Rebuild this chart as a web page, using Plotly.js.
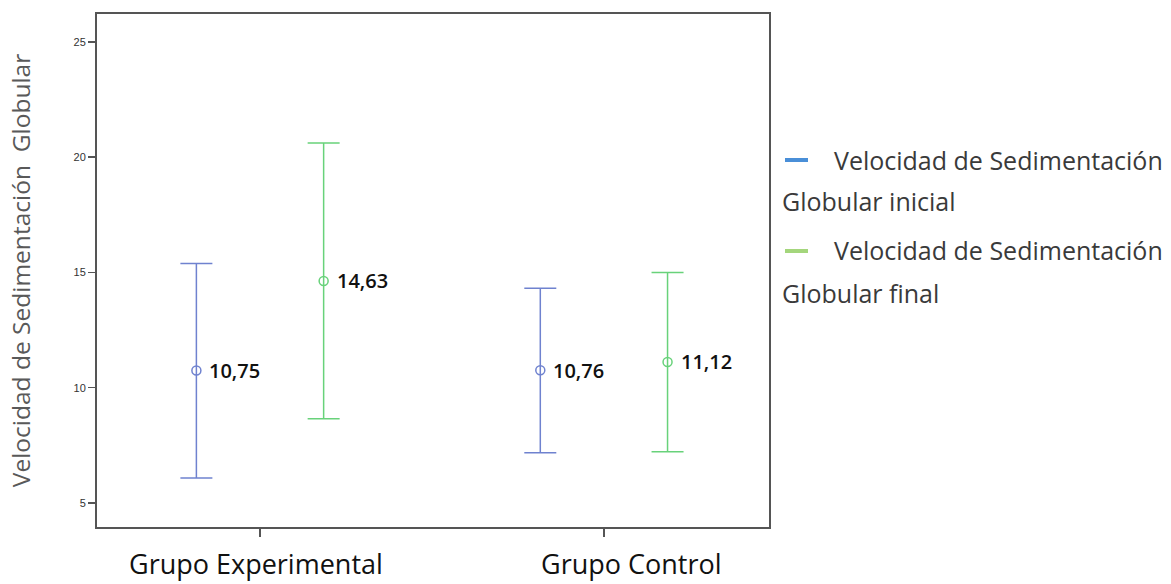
<!DOCTYPE html>
<html>
<head>
<meta charset="utf-8">
<script src="https://cdn.plot.ly/plotly-3.0.1.min.js"></script>
<style>html,body{margin:0;padding:0;background:#fff;}#chart{width:1171px;height:584px;}</style>
</head>
<body>
<div id="chart"></div>
<script>
const groups = ["Grupo Experimental", "Grupo Control"];
const seriesNames = ["Velocidad de Sedimentación Globular inicial", "Velocidad de Sedimentación Globular final"];
const meanInicial = [10.75, 10.76];
const upperInicial = [15.39, 14.31];
const lowerInicial = [6.08, 7.18];
const meanFinal = [14.63, 11.12];
const upperFinal = [20.61, 15.00];
const lowerFinal = [8.66, 7.22];
const yTicks = [5, 10, 15, 20, 25];

const groupIdx = groups.map((g, i) => i);
const offset = 0.185;
const groupLabelPx = [256, 631];

function makeTrace(name, means, uppers, lowers, shift, color) {
  return {
    type: 'scatter',
    mode: 'markers',
    name: name,
    x: groupIdx.map(i => i + shift),
    y: means,
    marker: {symbol: 'circle-open', size: 9, color: color, line: {width: 1.5, color: color}},
    error_y: {
      type: 'data', symmetric: false,
      array: uppers.map((u, i) => u - means[i]),
      arrayminus: lowers.map((l, i) => means[i] - l),
      color: color, thickness: 1.5, width: 16
    },
    cliponaxis: false,
    hoverinfo: 'skip'
  };
}

const traces = [
  makeTrace(seriesNames[0], meanInicial, upperInicial, lowerInicial, -offset, '#6f82cf'),
  makeTrace(seriesNames[1], meanFinal, upperFinal, lowerFinal, offset, '#68d27a')
];

function fmt(v) { return v.toFixed(2).replace('.', ','); }
const labelFont = {family: 'Open Sans', size: 20, color: '#111', weight: 600};
const dataLabels = [];
[[meanInicial, -offset], [meanFinal, offset]].forEach(([means, shift]) => {
  means.forEach((m, i) => dataLabels.push({
    xref: 'x', yref: 'y', x: i + shift, y: m, text: fmt(m), showarrow: false,
    xanchor: 'left', yanchor: 'middle', xshift: 11, font: labelFont
  }));
});

function px2x(p) { return (p - 97) / 672; }
function px2y(p) { return (527 - p) / 513; }

const groupLabels = groups.map((g, i) => ({
  xref: 'paper', yref: 'paper', x: px2x(groupLabelPx[i]), y: px2y(583), text: g, showarrow: false,
  xanchor: 'center', yanchor: 'bottom', borderpad: 0, font: {family: 'Open Sans', size: 27, color: '#111'}
}));

const legFont = {family: 'Open Sans', size: 25, color: '#3a3a3a'};
const layout = {
  width: 1171, height: 584,
  margin: {l: 97, r: 402, t: 14, b: 57},
  paper_bgcolor: '#fff', plot_bgcolor: '#fff',
  separators: ',.',
  showlegend: false,
  xaxis: {
    range: [-0.474, 1.480],
    tickvals: groupIdx, ticktext: groups, showticklabels: false,
    ticks: 'outside', ticklen: 8, tickwidth: 2, tickcolor: '#555',
    showgrid: false, zeroline: false,
    showline: true, mirror: true, linecolor: '#555', linewidth: 2
  },
  yaxis: {
    range: [3.96, 26.21],
    tickvals: yTicks,
    ticks: 'outside', ticklen: 7, tickwidth: 1.5, tickcolor: '#555',
    tickfont: {family: 'Arial', size: 11, color: '#333'},
    showgrid: false, zeroline: false,
    showline: true, mirror: true, linecolor: '#555', linewidth: 2,
    title: {text: 'Velocidad de Sedimentación  Globular', standoff: 36,
            font: {family: 'Open Sans', size: 24.5, color: '#595959'}}
  },
  shapes: [
    {type: 'line', xref: 'paper', yref: 'paper', x0: px2x(785), x1: px2x(808), y0: px2y(160), y1: px2y(160), line: {color: '#4a8fd8', width: 4}},
    {type: 'line', xref: 'paper', yref: 'paper', x0: px2x(785), x1: px2x(808), y0: px2y(251), y1: px2y(251), line: {color: '#a4d67c', width: 4}}
  ],
  annotations: dataLabels.concat(groupLabels).concat([
    {xref: 'paper', yref: 'paper', x: px2x(832), y: px2y(160), text: 'Velocidad de Sedimentación', showarrow: false, xanchor: 'left', yanchor: 'middle', font: legFont},
    {xref: 'paper', yref: 'paper', x: px2x(780), y: px2y(201), text: 'Globular inicial', showarrow: false, xanchor: 'left', yanchor: 'middle', font: legFont},
    {xref: 'paper', yref: 'paper', x: px2x(832), y: px2y(250), text: 'Velocidad de Sedimentación', showarrow: false, xanchor: 'left', yanchor: 'middle', font: legFont},
    {xref: 'paper', yref: 'paper', x: px2x(780), y: px2y(293), text: 'Globular final', showarrow: false, xanchor: 'left', yanchor: 'middle', font: legFont}
  ])
};

Plotly.newPlot('chart', traces, layout, {displayModeBar: false, staticPlot: true});
</script>
</body>
</html>
